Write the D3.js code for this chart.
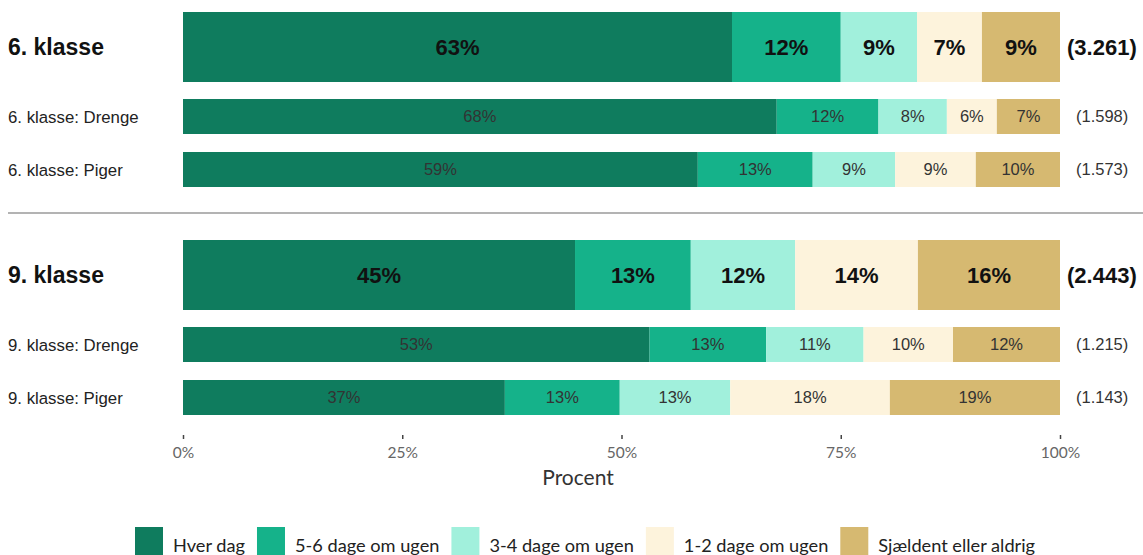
<!DOCTYPE html>
<html><head><meta charset="utf-8">
<script src="https://cdn.jsdelivr.net/npm/d3@7"></script>
<style>body{margin:0;background:#fff}svg{display:block}</style>
</head><body>
<script>
// ---- data ----
const categories = ["Hver dag","5-6 dage om ugen","3-4 dage om ugen","1-2 dage om ugen","Sjældent eller aldrig"];
const groups = ["6. klasse","9. klasse"];
const rowLabels = ["6. klasse","6. klasse: Drenge","6. klasse: Piger","9. klasse","9. klasse: Drenge","9. klasse: Piger"];
const rowGroup = ["6. klasse","6. klasse","6. klasse","9. klasse","9. klasse","9. klasse"];
const rowIsTotal = [true,false,false,true,false,false];
const hverDag   = [62.6, 67.7, 58.7, 44.7, 53.2, 36.7];
const dage56    = [12.4, 11.6, 13.1, 13.2, 13.3, 13.1];
const dage34    = [ 8.7,  7.8,  9.4, 11.9, 11.1, 12.6];
const dage12    = [ 7.4,  5.7,  9.2, 14.0, 10.2, 18.2];
const sjaeldent = [ 8.9,  7.2,  9.6, 16.2, 12.2, 19.4];
const nLabels = ["(3.261)","(1.598)","(1.573)","(2.443)","(1.215)","(1.143)"];
const tickValues = [0,25,50,75,100];
const colors = ["#0f7c5e","#15b28a","#a1f0dc","#fdf3dc","#d6b971"];

const W = 1143, H = 555;
const svg = d3.select("body").append("svg").attr("width",W).attr("height",H);

const x = d3.scaleLinear().domain([0,100]).range([183,1060]);
const gScale = d3.scaleBand().domain(groups).range([12, 12+2*228]);
// within-group row layout
const rowOffsets = [0, 87, 140];
const rowHeights = [70, 35, 35];
const seriesVals = [hverDag, dage56, dage34, dage12, sjaeldent];
const color = d3.scaleOrdinal().domain(categories).range(colors);

const rows = rowLabels.map((lab,i)=>{
  const within = i % 3;
  const y0 = gScale(rowGroup[i]) + rowOffsets[within];
  let cum = 0;
  const segs = categories.map((c,j)=>{
    const v = seriesVals[j][i];
    const s = {cat:c, start:cum, end:cum+v, v};
    cum += v; return s;
  });
  return {lab, y:y0, h:rowHeights[within], total:rowIsTotal[i], segs, n:nLabels[i]};
});

// separator
const sepY = gScale("9. klasse") - 27;
svg.append("line").attr("x1",8).attr("x2",W).attr("y1",sepY).attr("y2",sepY)
  .attr("stroke","#b3b3b3").attr("stroke-width",2);

const rowG = svg.selectAll("g.row").data(rows).join("g").attr("class","row");
rowG.each(function(r){
  const g = d3.select(this);
  const fs = r.total ? 22 : 16.5;
  const fw = r.total ? "bold" : "normal";
  g.selectAll("rect").data(r.segs).join("rect")
    .attr("x",d=>x(d.start)).attr("width",d=>x(d.end)-x(d.start))
    .attr("y",r.y).attr("height",r.h).attr("fill",d=>color(d.cat));
  g.selectAll("text.val").data(r.segs).join("text").attr("class","val")
    .attr("x",d=>(x(d.start)+x(d.end))/2).attr("y",r.y+r.h/2)
    .attr("dy","0.36em").attr("text-anchor","middle")
    .attr("font-family","'Liberation Sans', Arial, sans-serif")
    .attr("font-size",fs).attr("font-weight",fw)
    .attr("fill", r.total ? "#111" : "#333")
    .text(d=>Math.round(d.v)+"%");
  g.append("text").attr("x",8).attr("y",r.y+r.h/2).attr("dy","0.36em")
    .attr("font-family","'Liberation Sans', Arial, sans-serif")
    .attr("font-size",r.total?23:16.8).attr("font-weight",fw)
    .attr("fill",r.total?"#111":"#222").text(r.lab);
  g.append("text").attr("x",r.total?1067:1076).attr("y",r.y+r.h/2).attr("dy","0.36em")
    .attr("font-family","'Liberation Sans', Arial, sans-serif")
    .attr("font-size",r.total?22:16.5).attr("font-weight",fw)
    .attr("fill",r.total?"#111":"#333").text(r.n);
});

// axis
const axis = d3.axisBottom(x).tickValues(tickValues).tickFormat(d=>d+"%").tickSize(4).tickPadding(8);
const ax = svg.append("g").attr("transform","translate(0,435)").call(axis);
ax.select(".domain").remove();
ax.selectAll(".tick line").attr("stroke","#444").attr("stroke-width",1.5);
ax.selectAll(".tick text").attr("font-family","Lato, 'Open Sans', sans-serif")
  .attr("font-size",15.5).attr("fill","#666");

svg.append("text").attr("x",578).attr("y",485).attr("text-anchor","middle")
  .attr("font-family","Lato, 'Open Sans', sans-serif").attr("font-size",21)
  .attr("fill","#333").text("Procent");

// legend
const leg = svg.append("g");
let lx = 135;
categories.forEach(c=>{
  leg.append("rect").attr("x",lx).attr("y",527).attr("width",28).attr("height",30).attr("fill",color(c));
  const t = leg.append("text").attr("x",lx+38).attr("y",552)
    .attr("font-family","Lato, 'Open Sans', sans-serif").attr("font-size",18.2)
    .attr("fill","#222").text(c);
  lx += 38 + t.node().getComputedTextLength() + 12;
});
</script>
</body></html>
